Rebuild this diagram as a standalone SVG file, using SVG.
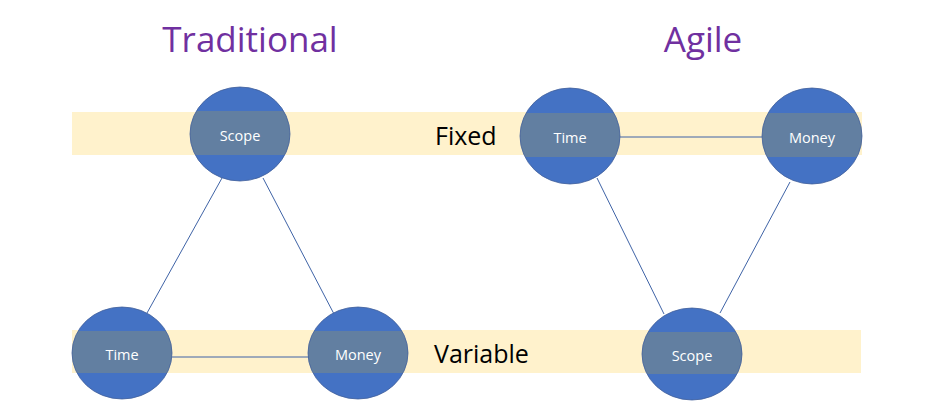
<svg xmlns="http://www.w3.org/2000/svg" width="949" height="415" viewBox="0 0 949 415">
<defs>
<linearGradient id="nodeFill" x1="0" y1="0" x2="0" y2="1">
<stop offset="0" stop-color="#4472C4"/>
<stop offset="0.26" stop-color="#4472C4"/>
<stop offset="0.26" stop-color="#627FA1"/>
<stop offset="0.72" stop-color="#627FA1"/>
<stop offset="0.72" stop-color="#4472C4"/>
<stop offset="1" stop-color="#4472C4"/>
</linearGradient>
</defs>
<style>
.band{fill:#FFF2CC}
.node ellipse{fill:url(#nodeFill);stroke:#41609A;stroke-width:0.8}
.node text{font-family:"Open Sans","Liberation Sans",sans-serif;font-size:14.5px;fill:#FFFFFF;text-anchor:middle}
.edge{stroke:#3F63A6;stroke-width:1;fill:none}
.title{font-family:"Open Sans","Liberation Sans",sans-serif;font-size:35px;fill:#7030A0;text-anchor:middle}
.label{font-family:"Open Sans","Liberation Sans",sans-serif;font-size:25px;fill:#000000}
</style>
<rect width="949" height="415" fill="#FFFFFF"/>
<rect class="band" x="72" y="112" width="790" height="43"/>
<rect class="band" x="72" y="330" width="789" height="43"/>
<text class="title" x="250" y="52">Traditional</text>
<text class="title" x="703" y="52">Agile</text>
<text class="label" x="435" y="145">Fixed</text>
<text class="label" x="434" y="363">Variable</text>
<g id="connectors">
<line class="edge" x1="222" y1="178" x2="147" y2="313"/>
<line class="edge" x1="263" y1="178" x2="334" y2="314"/>
<line class="edge" x1="172" y1="357" x2="309" y2="357"/>
<line class="edge" x1="620" y1="137" x2="762" y2="137"/>
<line class="edge" x1="597" y1="178" x2="664" y2="314"/>
<line class="edge" x1="790" y1="182" x2="720" y2="313"/>
</g>
<g id="trad-scope" class="node"><ellipse cx="240" cy="134" rx="50" ry="47"/><text x="240" y="141">Scope</text></g>
<g id="trad-time" class="node"><ellipse cx="122" cy="353" rx="50" ry="46"/><text x="122" y="360">Time</text></g>
<g id="trad-money" class="node"><ellipse cx="358" cy="353" rx="50" ry="46"/><text x="358" y="360">Money</text></g>
<g id="agile-time" class="node"><ellipse cx="570" cy="136" rx="50" ry="48"/><text x="570" y="143">Time</text></g>
<g id="agile-money" class="node"><ellipse cx="812" cy="136" rx="50" ry="48"/><text x="812" y="143">Money</text></g>
<g id="agile-scope" class="node"><ellipse cx="692" cy="354" rx="50" ry="46"/><text x="692" y="361">Scope</text></g>
</svg>
